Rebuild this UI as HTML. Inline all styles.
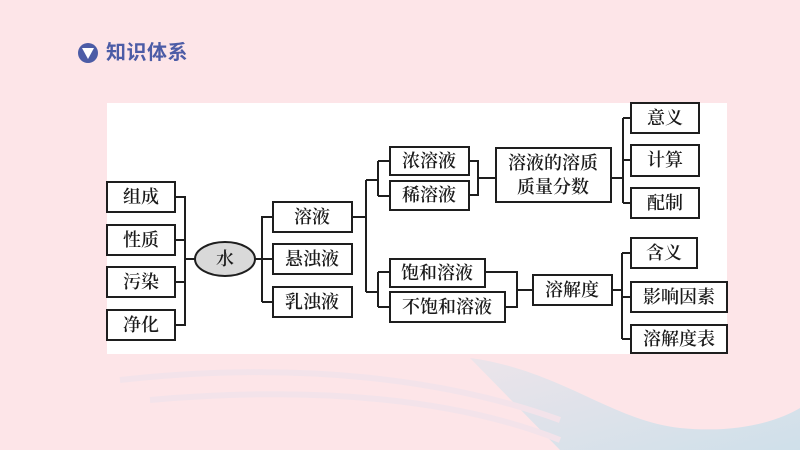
<!DOCTYPE html>
<html><head><meta charset="utf-8"><style>
html,body{margin:0;padding:0;}
body{width:800px;height:450px;overflow:hidden;background:#fde5e8;position:relative;font-family:"Liberation Serif","Noto Serif CJK SC",serif;}
.hdr{position:absolute;left:106px;top:41px;font:bold 20px "Liberation Sans","Noto Sans CJK SC",sans-serif;color:#4c5ca6;line-height:24px;letter-spacing:0.5px}
</style></head><body>
<svg width="800" height="450" style="position:absolute;left:0;top:0">
<defs><linearGradient id="g" x1="0" y1="0" x2="1" y2="1"><stop offset="0" stop-color="#ece4ea"/><stop offset="1" stop-color="#cfe0ea"/></linearGradient></defs>
<path d="M470 358 C560 370 610 420 680 428 C740 434 780 420 800 408 L800 450 L560 450 Z" fill="url(#g)"/>
<path d="M120 380 C300 360 450 380 560 420" stroke="#f3e3ea" stroke-width="6" fill="none"/>
<path d="M150 400 C320 385 460 400 560 440" stroke="#f3e3ea" stroke-width="6" fill="none"/>
<circle cx="88" cy="53" r="10" fill="#4c5ca6"/>
<path d="M82 48 L94 48 L88 59 Z" fill="#fff"/>
<rect x="107" y="103" width="620" height="251" fill="#fff"/>
<g stroke="#1e1e1e" stroke-width="2" fill="#fff">
<rect x="107" y="182" width="68" height="30"/>
<rect x="107" y="225" width="68" height="30"/>
<rect x="107" y="267" width="68" height="30"/>
<rect x="107" y="310" width="68" height="30"/>
<path d="M175 197 H185 V325 H175 M175 240 H185 M175 282 H185 M185 259 H195" fill="none"/>
<ellipse cx="225" cy="259" rx="30" ry="17" fill="#d9d9d9"/>
<path d="M255 259 H262 M262 216 V302 M262 217 H273 M262 259 H273 M262 302 H273" fill="none"/>
<rect x="273" y="202" width="79" height="30"/>
<rect x="273" y="244" width="79" height="30"/>
<rect x="273" y="287" width="79" height="30"/>
<path d="M352 217 H366 M366 180 V292 M366 180 H378 M378 161 V196 M378 161 H390 M378 196 H390 M366 292 H378 M378 272 V307 M378 272 H390 M378 307 H390" fill="none"/>
<rect x="390" y="147" width="79" height="28"/>
<rect x="390" y="181" width="79" height="29"/>
<path d="M469 161 H478 V195 H469 M478 178 H496" fill="none"/>
<rect x="496" y="148" width="115" height="54"/>
<path d="M611 178 H623 M623 118 V203 M623 118 H631 M623 160 H631 M623 203 H631" fill="none"/>
<rect x="631" y="103" width="68" height="30"/>
<rect x="631" y="145" width="68" height="31"/>
<rect x="631" y="188" width="68" height="30"/>
<rect x="390" y="259" width="95" height="28"/>
<rect x="390" y="292" width="115" height="30"/>
<path d="M485 272 H517 V307 H505 M517 290 H533" fill="none"/>
<rect x="533" y="275" width="79" height="30"/>
<path d="M612 290 H622 M622 253 V339 M622 253 H631 M622 297 H631 M622 339 H631" fill="none"/>
<rect x="631" y="238" width="66" height="30"/>
<rect x="631" y="282" width="96" height="30"/>
<rect x="631" y="325" width="96" height="28"/>
</g>
<g font-family="'Liberation Serif','Noto Serif CJK SC',serif" font-size="18" font-weight="600" fill="#1a1a1a" text-anchor="middle" dominant-baseline="central">
<text x="141" y="197">组成</text>
<text x="141" y="240">性质</text>
<text x="141" y="282">污染</text>
<text x="141" y="325">净化</text>
<text x="225" y="259">水</text>
<text x="312" y="217">溶液</text>
<text x="312" y="259">悬浊液</text>
<text x="312" y="302">乳浊液</text>
<text x="429" y="161">浓溶液</text>
<text x="429" y="195">稀溶液</text>
<text x="553" y="163">溶液的溶质</text>
<text x="553" y="187">质量分数</text>
<text x="665" y="118">意义</text>
<text x="665" y="160">计算</text>
<text x="665" y="203">配制</text>
<text x="437" y="273">饱和溶液</text>
<text x="447" y="307">不饱和溶液</text>
<text x="572" y="290">溶解度</text>
<text x="664" y="253">含义</text>
<text x="679" y="297">影响因素</text>
<text x="679" y="339">溶解度表</text>
</g>
</svg>
<div class="hdr">知识体系</div>
</body></html>
